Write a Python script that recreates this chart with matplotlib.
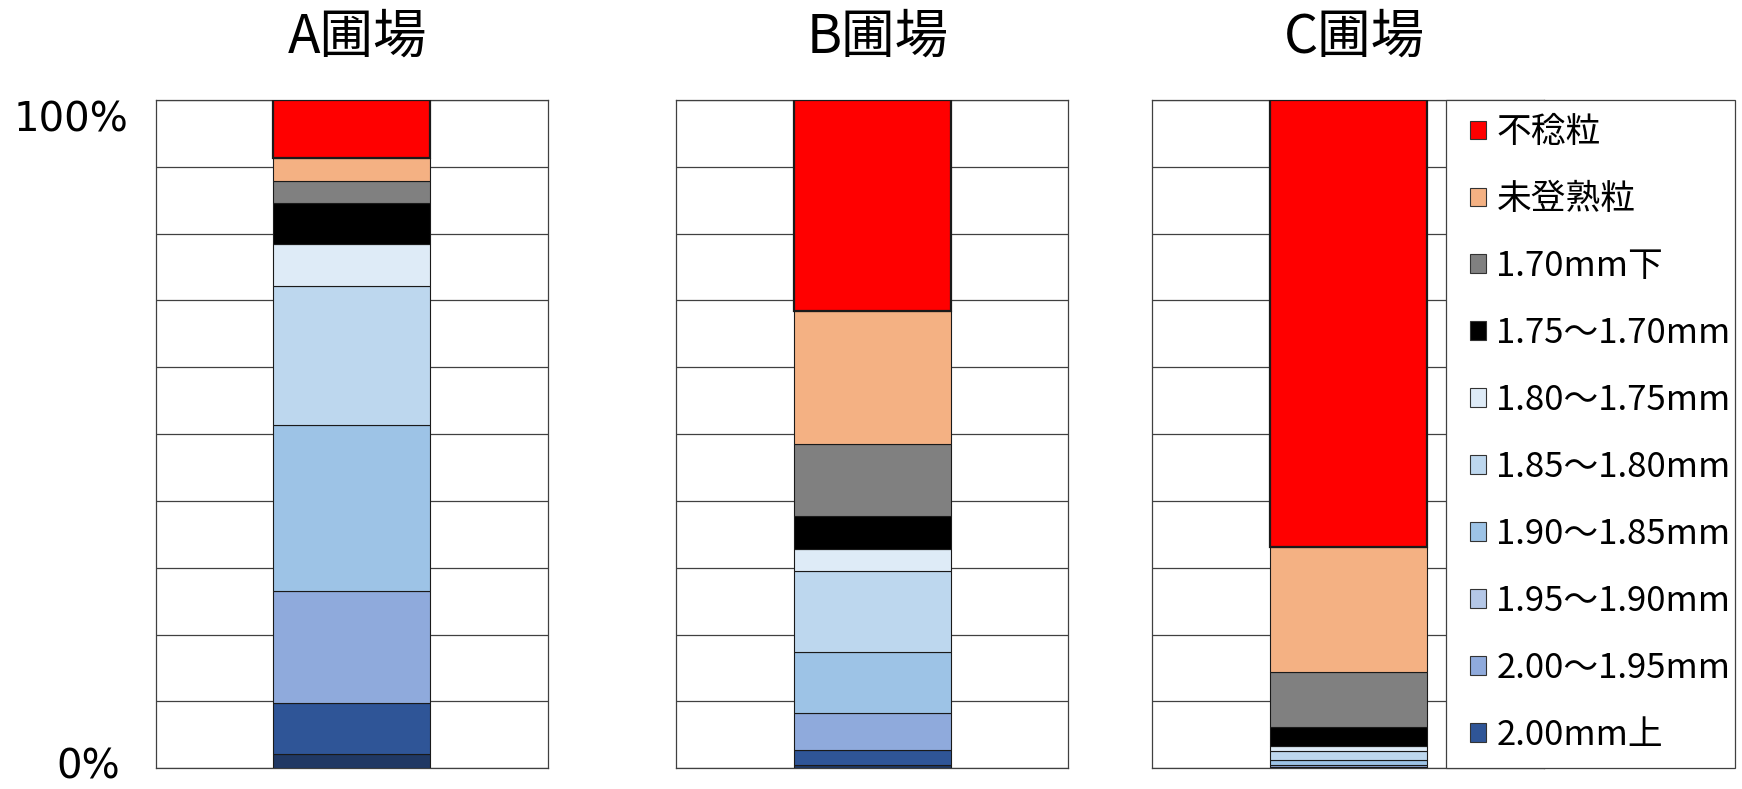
import matplotlib.pyplot as plt
from matplotlib.patches import Patch, Rectangle

plt.rcParams['font.family'] = ['Noto Sans CJK JP', 'DejaVu Sans']

# ---------------- DATA (% of grains, per field) ----------------
fields = ['A圃場', 'B圃場', 'C圃場']
grades = ['不稔粒', '未登熟粒', '1.70mm下', '1.75〜1.70mm', '1.80〜1.75mm',
          '1.85〜1.80mm', '1.90〜1.85mm', '1.95〜1.90mm', '2.00〜1.95mm', '2.00mm上']

sterile = [8.7, 31.5, 66.95]
immature = [3.4, 19.9, 18.6]
under_170 = [3.3, 10.9, 8.3]
g175_170 = [6.2, 4.9, 2.8]
g180_175 = [6.2, 3.3, 0.75]
g185_180 = [20.8, 12.1, 1.4]
g190_185 = [24.9, 9.1, 0.7]
g195_190 = [16.8, 5.55, 0.3]
g200_195 = [7.6, 2.25, 0.15]
over_200 = [2.1, 0.5, 0.05]

series = [sterile, immature, under_170, g175_170, g180_175,
          g185_180, g190_185, g195_190, g200_195, over_200]

bar_colors = ['#FF0000', '#F4B183', '#808080', '#000000', '#DEEBF7',
              '#BDD7EE', '#9DC3E6', '#8FAADC', '#2F5597', '#203864']
key_colors = ['#FF0000', '#F4B183', '#808080', '#000000', '#DEEBF7',
              '#BDD7EE', '#9DC3E6', '#B4C7E7', '#8FAADC', '#2F5597']

# ---------------- LAYOUT ----------------
W, H = 1742, 789
fig = plt.figure(figsize=(W / 100, H / 100), dpi=100)

panel_left = [155.7, 676.3, 1152.3]
panel_w = 392
ax_top, ax_bot = 100, 768.3

axes = []
for i, name in enumerate(fields):
    ax = fig.add_axes([panel_left[i] / W, 1 - ax_bot / H,
                       panel_w / W, (ax_bot - ax_top) / H])
    axes.append(ax)

    # stack from the bottom grade upward
    bottom = 0.0
    for k in range(len(series) - 1, -1, -1):
        v = series[k][i]
        lw = 1.6 if k == 0 else 0.8
        ax.bar(0, v, width=0.4, bottom=bottom, color=bar_colors[k],
               edgecolor='#1a1a1a', linewidth=lw, zorder=3)
        bottom += v

    ax.set_xlim(-0.5, 0.5)
    ax.set_ylim(0, 100)
    ax.set_xticks([])
    ax.set_yticks([])
    ax.set_yticks(range(0, 101, 10), minor=True)
    ax.grid(True, axis='y', which='minor', color='#404040', linewidth=0.9)
    ax.set_axisbelow(True)
    ax.tick_params(axis='y', which='both', length=0)
    for sp in ax.spines.values():
        sp.set_color('#404040')
        sp.set_linewidth(0.9)
    ax.set_title(name, fontsize=38.5, pad=34, x=0.515)

# 0% / 100% labels on the first panel only
ytr = axes[0].get_yaxis_transform()
axes[0].text(-0.07, 95.3, '100%', transform=ytr, ha='right', va='baseline',
             fontsize=29, family='DejaVu Sans')
axes[0].text(-0.09, -1.5, '0%', transform=ytr, ha='right', va='baseline',
             fontsize=29, family='DejaVu Sans')

# legend box drawn over the right side of the last panel
box_l, box_r = 1445.7, 1735
fig.add_artist(Rectangle((box_l / W, 1 - ax_bot / H), (box_r - box_l) / W,
                         (ax_bot - ax_top) / H, transform=fig.transFigure,
                         facecolor='white', edgecolor='#404040',
                         linewidth=0.9, zorder=4))

handles = [Patch(facecolor=c, edgecolor='#333333', linewidth=0.8) for c in key_colors]
fig.legend(handles, grades, loc='center left',
           bbox_to_anchor=(1470 / W, 1 - (ax_top + ax_bot) / 2 / H),
           frameon=False, fontsize=25, handlelength=0.46, handleheight=0.46,
           handletextpad=0.3, labelspacing=0.92, borderpad=0, borderaxespad=0)

fig.savefig('out.png', dpi=100)
